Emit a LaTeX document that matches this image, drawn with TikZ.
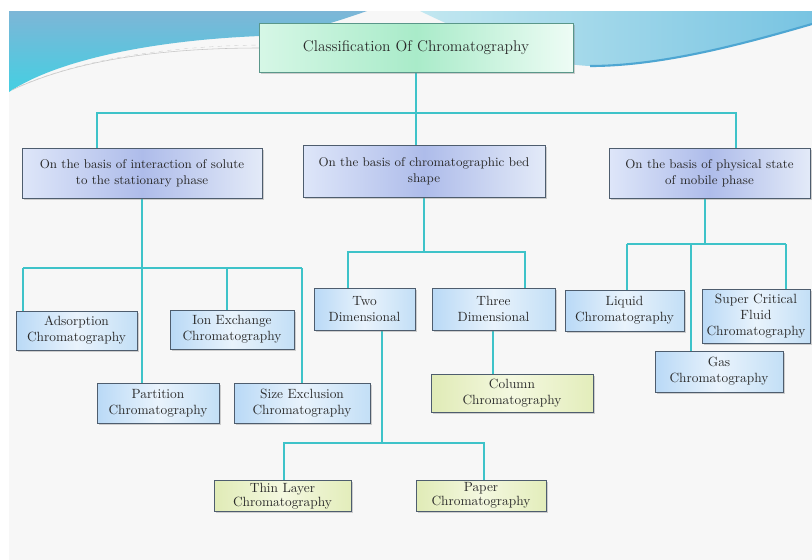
\documentclass[tikz,border=0pt]{standalone}
\usepackage{tikz}
\usetikzlibrary{shadows,backgrounds}

\definecolor{linkteal}{HTML}{3EC3C9}
\definecolor{boxedge}{HTML}{4E5D6E}
\definecolor{rootedge}{HTML}{5A978A}
\definecolor{textgray}{HTML}{2A2A2A}
\definecolor{pagegray}{HTML}{F7F7F7}
\definecolor{rootleft}{HTML}{D6F7E6}
\definecolor{rootmid}{HTML}{A9EBC9}
\definecolor{rootright}{HTML}{EEFCF5}
\definecolor{basisleft}{HTML}{DEE6F9}
\definecolor{basismid}{HTML}{AEBCEA}
\definecolor{basisright}{HTML}{E3EAF8}
\definecolor{typeleft}{HTML}{B9D9F6}
\definecolor{typemid}{HTML}{E9F3FC}
\definecolor{typeright}{HTML}{C3DFF6}
\definecolor{methodleft}{HTML}{E0EBB6}
\definecolor{methodmid}{HTML}{F4F8E0}
\definecolor{methodright}{HTML}{E3EDBB}
\definecolor{swooshtop}{HTML}{7DB6D7}
\definecolor{swooshbot}{HTML}{44CFE2}
\definecolor{swooshlight}{HTML}{C2E7F0}
\definecolor{swooshright}{HTML}{78C4E2}
\definecolor{swooshedge}{HTML}{4EA6D2}

\begin{document}
\begin{tikzpicture}[x=0.025cm,y=-0.025cm,
    box/.style={draw=boxedge, line width=0.7pt, align=center, inner sep=0pt, text=textgray,
        font=\fontsize{9.5}{11.5}\selectfont,
        drop shadow={shadow xshift=1.2pt, shadow yshift=-1.4pt, opacity=0.35}},
    boxdim/.style 2 args={minimum width=#1*0.025cm, minimum height=#2*0.025cm},
    topbox/.style={box, draw=rootedge, left color=rootleft, right color=rootright, middle color=rootmid,
        font=\fontsize{11}{13}\selectfont},
    basisbox/.style={box, left color=basisleft, right color=basisright, middle color=basismid,
        font=\fontsize{9}{11.5}\selectfont},
    typebox/.style={box, left color=typeleft, right color=typeright, middle color=typemid},
    methodbox/.style={box, left color=methodleft, right color=methodright, middle color=methodmid},
    link/.style={linkteal, line width=1.9pt}]
        \useasboundingbox (0,0) rectangle (812,560);

        % Nodes
        \node[topbox, boxdim={314}{49}] (root) at (416,47.5) {Classification Of Chromatography};

        \node[basisbox, boxdim={240}{50}] (a1) at (142,173) {On the basis of interaction of solute\\to the stationary phase};
        \node[basisbox, boxdim={242}{52}] (a2) at (424,171.5) {On the basis of chromatographic bed\\shape};
        \node[basisbox, boxdim={201}{50}] (a3) at (709.5,173) {On the basis of physical state\\of mobile phase};

        \node[typebox, boxdim={121}{39}] (ads) at (76.5,330.5) {Adsorption\\Chromatography};
        \node[typebox, boxdim={124}{39}] (ion) at (232,329.5) {Ion Exchange\\Chromatography};
        \node[typebox, boxdim={122}{40}] (part) at (158,403) {Partition\\Chromatography};
        \node[typebox, boxdim={136}{40}] (size) at (302,403) {Size Exclusion\\Chromatography};

        \node[typebox, boxdim={101}{42}] (two) at (364.5,309) {Two\\Dimensional};
        \node[typebox, boxdim={123}{42}] (three) at (493.5,309) {Three\\Dimensional};
        \node[methodbox, boxdim={162}{38}] (column) at (512,393) {Column\\Chromatography};
        \node[methodbox, boxdim={137}{31}, font=\fontsize{9.5}{10}\selectfont] (thin) at (282.5,496) {Thin Layer\\Chromatography};
        \node[methodbox, boxdim={130}{31}, font=\fontsize{9.5}{10}\selectfont] (paper) at (481,495.5) {Paper\\Chromatography};

        \node[typebox, boxdim={119}{41}] (liquid) at (624.5,310.5) {Liquid\\Chromatography};
        \node[typebox, boxdim={108}{54}] (scf) at (756,316) {Super Critical\\Fluid\\Chromatography};
        \node[typebox, boxdim={128}{41}] (gas) at (719,371.5) {Gas\\Chromatography};

        % Bus points
        \coordinate (bus1l) at (97,113);
        \coordinate (bus1r) at (736,113);
        \coordinate (bus2l) at (23,268);
        \coordinate (bus2m) at (227,268);
        \coordinate (bus2r) at (302,268);
        \coordinate (bus3l) at (348,252);
        \coordinate (bus3r) at (525,252);
        \coordinate (drop3) at (493,330);
        \coordinate (bus4m) at (382,443);
        \coordinate (bus4l) at (284,443);
        \coordinate (bus4r) at (484,443);
        \coordinate (bus5m) at (705,244);
        \coordinate (bus5l) at (627,244);
        \coordinate (bus5g) at (691,244);
        \coordinate (bus5r) at (786,244);

        \begin{pgfonlayer}{background}
            % Page and swoosh
            \fill[white] (0,0) rectangle (812,560);
            \fill[pagegray] (9,11) rectangle (812,560);
            \shade[top color=swooshtop, bottom color=swooshbot]
                (9,11) -- (367,11) .. controls (330,24) and (300,33) .. (260,36)
                .. controls (160,40) and (60,58) .. (9,92) -- cycle;
            \shade[left color=swooshlight, right color=swooshright]
                (420,11) -- (812,11) -- (812,24) .. controls (740,45) and (660,66) .. (590,66)
                .. controls (540,64) and (480,40) .. (420,11) -- cycle;
            \draw[swooshedge, line width=1.5pt] (812,24) .. controls (740,45) and (660,66) .. (590,66);
            \draw[gray!45, line width=0.4pt] (12,90) .. controls (80,58) and (170,48) .. (260,48);
            \draw[gray!35, dashed, line width=0.3pt] (20,86) .. controls (90,56) and (180,46) .. (260,45);

            % Edges
            \draw[link] (root.south) -- (root.south |- a2.north);
            \draw[link] (bus1l |- a1.north) -- (bus1l) -- (bus1r) -- (bus1r |- a3.north);

            \draw[link] (a1.south) -- (a1.south |- part.north);
            \draw[link] (bus2l) -- (bus2r);
            \foreach \c/\n in {bus2l/ads, bus2m/ion, bus2r/size} {
                \draw[link] (\c) -- (\c |- \n.north);
            }

            \draw[link] (a2.south) -- (a2.south |- bus3l);
            \draw[link] (bus3l |- two.north) -- (bus3l) -- (bus3r) -- (bus3r |- three.north);
            \draw[link] (drop3 |- three.south) -- (drop3 |- column.north);

            \draw[link] (bus4m |- two.south) -- (bus4m);
            \draw[link] (bus4l |- thin.north) -- (bus4l) -- (bus4r) -- (bus4r |- paper.north);

            \draw[link] (bus5m |- a3.south) -- (bus5m);
            \draw[link] (bus5l) -- (bus5r);
            \foreach \c/\n in {bus5l/liquid, bus5g/gas, bus5r/scf} {
                \draw[link] (\c) -- (\c |- \n.north);
            }
        \end{pgfonlayer}
    \end{tikzpicture}
\end{document}
